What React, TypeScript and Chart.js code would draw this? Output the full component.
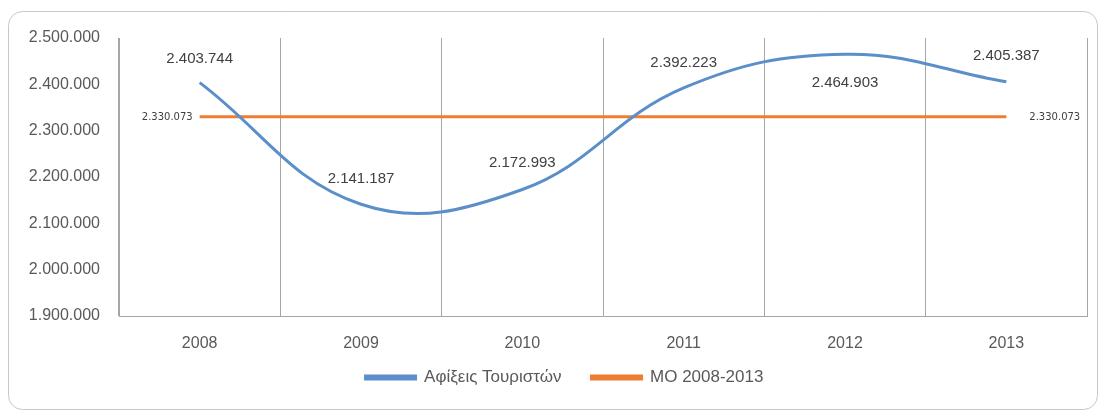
import React, { useEffect, useRef } from "react";
import { Chart, registerables } from "chart.js";

Chart.register(...registerables);

const categories = ["2008", "2009", "2010", "2011", "2012", "2013"];
const arrivals = [2403744, 2141187, 2172993, 2392223, 2464903, 2405387];
const meanValue = 2330073;
const meanSeries = categories.map(() => meanValue);
const seriesNames = ["Αφίξεις Τουριστών", "ΜΟ 2008-2013"];
const yTicks = [1900000, 2000000, 2100000, 2200000, 2300000, 2400000, 2500000];

const fmt = (v: number) => String(Math.round(v)).replace(/\B(?=(\d{3})+(?!\d))/g, ".");

const labelDy = [-24, -25, -27, -25, 29, -26];
const FONT = "'Liberation Sans', Arial, sans-serif";

const framePlugin = {
  id: "frame",
  beforeDraw(chart: any) {
    const ctx = chart.ctx;
    ctx.save();
    ctx.fillStyle = "#ffffff";
    ctx.fillRect(0, 0, chart.width, chart.height);
    ctx.strokeStyle = "#c8c8c8";
    ctx.lineWidth = 1;
    ctx.beginPath();
    (ctx as any).roundRect(8.5, 11.5, 1089, 398, 14);
    ctx.stroke();
    ctx.restore();
  },
};

const legendShift = {
  id: "legendShift",
  afterLayout(chart: any) {
    const l = chart.legend;
    if (!l) return;
    l.top -= 16;
    l.bottom -= 16;
    l.left += 17;
    l.right += 17;
  },
};

const labelsPlugin = {
  id: "valueLabels",
  afterDatasetsDraw(chart: any) {
    const ctx = chart.ctx;
    ctx.save();
    const m0 = chart.getDatasetMeta(0);
    ctx.font = "15px " + FONT;
    ctx.fillStyle = "#404040";
    ctx.textAlign = "center";
    ctx.textBaseline = "middle";
    m0.data.forEach((pt: any, i: number) => {
      ctx.fillText(fmt(arrivals[i]), pt.x, pt.y + labelDy[i]);
    });
    const m1 = chart.getDatasetMeta(1);
    ctx.font = "10px 'DejaVu Sans', sans-serif";
    const first = m1.data[0];
    const last = m1.data[m1.data.length - 1];
    ctx.textAlign = "right";
    ctx.fillText(fmt(meanSeries[0]), first.x - 7, first.y + 1);
    ctx.textAlign = "left";
    ctx.fillText(fmt(meanSeries[meanSeries.length - 1]), last.x + 23, last.y + 1);
    ctx.restore();
  },
};

export default function App() {
  const ref = useRef<HTMLCanvasElement | null>(null);
  useEffect(() => {
    if (!ref.current) return;
    const chart = new Chart(ref.current, {
      type: "line",
      data: {
        labels: categories,
        datasets: [
          {
            label: seriesNames[0],
            data: arrivals,
            borderColor: "#5a8fca",
            backgroundColor: "#5a8fca",
            borderWidth: 3,
            tension: 0.4,
            pointRadius: 0,
            fill: false,
          },
          {
            label: seriesNames[1],
            data: meanSeries,
            borderColor: "#ed7d31",
            backgroundColor: "#ed7d31",
            borderWidth: 3,
            tension: 0,
            pointRadius: 0,
            fill: false,
          },
        ],
      },
      options: {
        animation: false,
        responsive: false,
        maintainAspectRatio: false,
        layout: { padding: { left: 8, right: 18, top: 38, bottom: 0 } },
        plugins: {
          legend: {
            position: "bottom",
            labels: {
              boxWidth: 50,
              boxHeight: 3,
              padding: 30,
              color: "#595959",
              font: { size: 17, family: FONT },
            },
          },
          tooltip: { enabled: false },
        },
        scales: {
          x: {
            offset: true,
            grid: { offset: true, color: "#a6a6a6", drawTicks: false, lineWidth: 1 },
            border: { display: true, color: "#a6a6a6" },
            ticks: {
              color: "#595959",
              padding: 18,
              font: { size: 16, family: FONT },
            },
            afterFit(scale: any) {
              scale.height = 39;
            },
          },
          y: {
            min: 1900000,
            max: 2500000,
            afterBuildTicks(scale: any) {
              scale.ticks = yTicks.map((v) => ({ value: v }));
            },
            grid: { display: false, drawTicks: false },
            border: { display: true, color: "#a6a6a6" },
            ticks: {
              color: "#595959",
              padding: 19,
              font: { size: 16, family: FONT },
              callback: (v: any) => fmt(Number(v)),
            },
            afterFit(scale: any) {
              scale.width = 111;
            },
          },
        },
      },
      plugins: [framePlugin, legendShift, labelsPlugin],
    });
    return () => chart.destroy();
  }, []);
  return (
    <div style={{ position: "fixed", left: 0, top: 0, width: 1105, height: 412 }}>
      <canvas ref={ref} width={1105} height={412} style={{ width: 1105, height: 412 }} />
    </div>
  );
}
